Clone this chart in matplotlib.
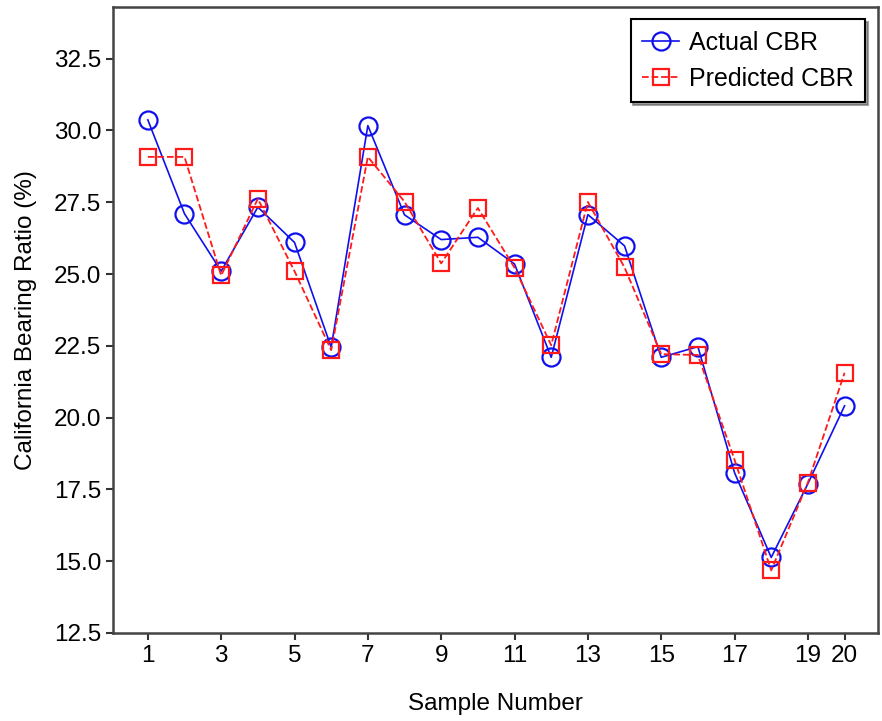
import matplotlib
matplotlib.use("Agg")
import matplotlib.pyplot as plt

plt.rcParams['font.family'] = ['Liberation Sans', 'DejaVu Sans']

samples = list(range(1, 21))
actual_cbr = [30.37, 27.10, 25.10, 27.33, 26.10, 22.45, 30.17, 27.06, 26.20, 26.28,
              25.35, 22.10, 27.07, 25.98, 22.10, 22.47, 18.08, 15.13, 17.70, 20.41]
predicted_cbr = [29.08, 29.08, 24.95, 27.62, 25.10, 22.35, 29.08, 27.52, 25.37, 27.30,
                 25.22, 22.52, 27.51, 25.23, 22.21, 22.18, 18.53, 14.68, 17.74, 21.56]
xticks = [1, 3, 5, 7, 9, 11, 13, 15, 17, 19, 20]
yticks = [12.5, 15.0, 17.5, 20.0, 22.5, 25.0, 27.5, 30.0, 32.5]

fig = plt.figure(figsize=(8.82, 7.21), dpi=100)
ax = fig.add_axes([0.1281, 0.1221, 0.8673, 0.8682])

ax.plot(samples, actual_cbr, color='#1010ee', lw=1.2, marker='o', ms=13,
        mfc='none', mec='#1010ee', mew=1.6, label='Actual CBR')
ax.plot(samples, predicted_cbr, color='#ff1a1a', lw=1.3, ls='--', marker='s', ms=11.5,
        mfc='none', mec='#ff1a1a', mew=1.6, label='Predicted CBR')

ax.set_xlim(0.05, 20.91)
ax.set_ylim(12.5, 34.3)
ax.set_xticks(xticks)
ax.set_yticks(yticks)
ax.set_yticklabels([f'{v:.1f}' for v in yticks])
ax.tick_params(axis='both', labelsize=17.5, direction='out', length=5, width=1.5,
               color='#333333', top=False, right=False)
for s in ax.spines.values():
    s.set_linewidth(1.8)
    s.set_color('#444444')

ax.set_xlabel('Sample Number', fontsize=17.5, labelpad=19)
ax.set_ylabel('California Bearing Ratio (%)', fontsize=17.5, labelpad=12)

leg = ax.legend(loc='upper right', fontsize=18, fancybox=False, shadow=True,
                framealpha=1, edgecolor='black', handlelength=1.5,
                borderaxespad=0.5, handletextpad=0.4, labelspacing=0.5,
                borderpad=0.45)
leg.get_frame().set_linewidth(1.5)

fig.savefig('out.png', dpi=100, facecolor='white')
